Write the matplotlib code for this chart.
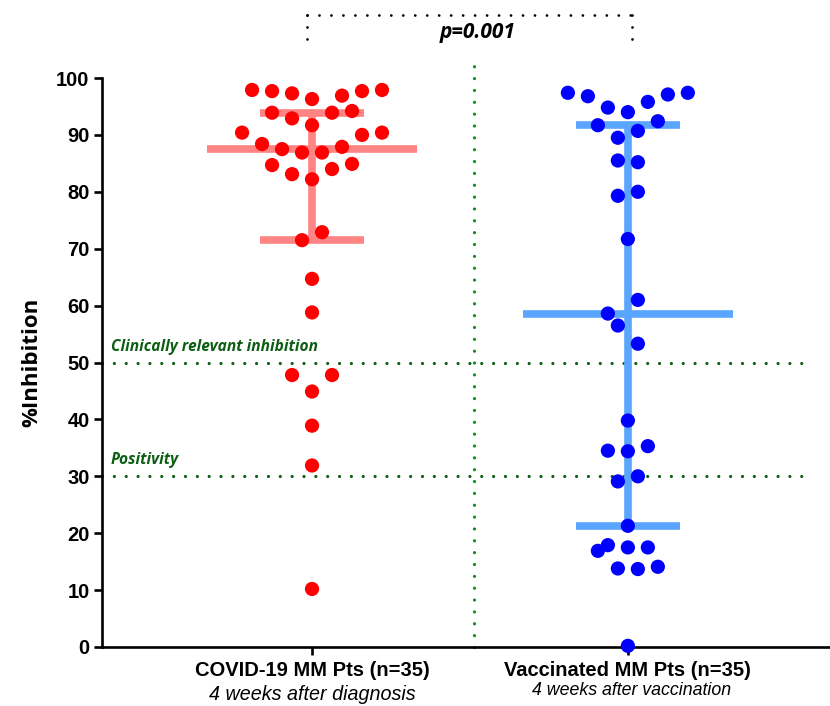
import matplotlib
matplotlib.use("Agg")
import matplotlib.pyplot as plt
import numpy as np

# ---------------- data ----------------
groups = ["COVID-19 MM Pts (n=35)", "Vaccinated MM Pts (n=35)"]
subtitles = ["4 weeks after diagnosis", "4 weeks after vaccination"]

covid_values = [97.9, 97.7, 97.3, 96.3, 96.9, 97.7, 97.9,
                93.9, 92.9, 91.7, 93.9, 94.2,
                90.4, 90.0, 90.4,
                88.4, 87.5, 86.9, 86.9, 87.9,
                84.7, 84.9, 83.1, 84.0, 82.2,
                72.9, 71.5,
                64.7, 58.8, 47.8, 47.8, 44.9, 38.9, 31.9, 10.2]
covid_jitter = [-6, -4, -2, 0, 3, 5, 7,
                -4, -2, 0, 2, 4,
                -7, 5, 7,
                -5, -3, -1, 1, 3,
                -4, 4, -2, 2, 0,
                1, -1,
                0, 0, -2, 2, 0, 0, 0, 0]

vacc_values = [97.4, 96.8, 94.8, 94.0, 95.8, 97.1, 97.4,
               91.7, 92.4, 89.5, 90.7, 85.5, 85.2, 79.3, 80.0, 71.7,
               61.0, 58.6, 56.5, 53.3,
               39.8, 34.5, 34.4, 35.3, 29.1, 30.0, 21.3,
               16.9, 17.9, 17.5, 17.5, 13.8, 13.7, 14.1, 0.2]
vacc_jitter = [-6, -4, -2, 0, 2, 4, 6,
               -3, 3, -1, 1, -1, 1, -1, 1, 0,
               1, -2, -1, 1,
               0, -2, 0, 2, -1, 1, 0,
               -3, -2, 0, 2, -1, 1, 3, 0]

# median and interquartile range shown as bars
covid_stats = {"median": 87.5, "q1": 71.5, "q3": 93.9}
vacc_stats = {"median": 58.6, "q1": 21.3, "q3": 91.7}

thresholds = [50, 30]
threshold_labels = ["Clinically relevant inhibition", "Positivity"]
p_text = "p=0.001"

# ---------------- styling ----------------
W, H = 830, 706
fig = plt.figure(figsize=(W / 100, H / 100), dpi=100)
ax = fig.add_axes([102 / W, (706 - 647) / H, 1 - 102 / W, (647 - 78) / H])
ax.set_xlim(-0.665, 1.64)
ax.set_ylim(0, 100)

jit_step = 10 / 316.0
dot_colors = ["#ff0000", "#0000ff"]
bar_colors = ["#ff8585", "#5aa5ff"]

green_dark = "#0b5e12"
green_mid = "#148a1c"
arial = ["Liberation Sans", "DejaVu Sans"]

# threshold lines
for t in thresholds:
    ax.plot([-0.665, 1.56], [t, t], color=green_dark, lw=2.3,
            linestyle=(0, (0.01, 3.7)), dash_capstyle="round", zorder=1,
            clip_on=False)
# vertical divider
ax.plot([0.513, 0.513], [0, 102.8], color=green_mid, lw=2.3,
        linestyle=(0, (0.01, 3.7)), dash_capstyle="round", zorder=1,
        clip_on=False)

# threshold labels
lab_font = dict(family=["Open Sans", "DejaVu Sans"], fontweight="bold",
                fontstyle="italic", fontsize=11.2, color=green_dark)
ax.text(-0.637, 51.4, threshold_labels[0], ha="left", va="bottom", **lab_font)
ax.text(-0.637, 31.4, threshold_labels[1], ha="left", va="bottom", **lab_font)

# median / IQR bars
for i, st in enumerate([covid_stats, vacc_stats]):
    c = bar_colors[i]
    ax.plot([i, i], [st["q1"], st["q3"]], color=c, lw=5.5, zorder=2,
            solid_capstyle="butt")
    ax.plot([i - 0.333, i + 0.333], [st["median"]] * 2, color=c, lw=5.5,
            zorder=2, solid_capstyle="butt")
    for q in (st["q1"], st["q3"]):
        ax.plot([i - 0.165, i + 0.165], [q, q], color=c, lw=5.5, zorder=2,
                solid_capstyle="butt")

# points
for i, (vals, jit) in enumerate([(covid_values, covid_jitter),
                                  (vacc_values, vacc_jitter)]):
    xs = i + np.array(jit) * jit_step
    ax.scatter(xs, vals, s=105, color=dot_colors[i], edgecolors="none",
               zorder=3, clip_on=False)

# top bracket
ax.plot([-0.016, 1.013], [111.1, 111.1], color="black", lw=2.0,
        linestyle=(0, (0.01, 4.3)), dash_capstyle="round", clip_on=False)
for xb in (-0.016, 1.013):
    ax.plot([xb, xb], [111.1, 106.6], color="black", lw=2.0,
            linestyle=(0, (0.01, 4.3)), dash_capstyle="round", clip_on=False)
ax.text(0.525, 108.0, p_text, ha="center", va="center", fontsize=15,
        fontweight="bold", fontstyle="italic",
        family=["Open Sans", "DejaVu Sans"], clip_on=False)

# axes styling
for s in ("top", "right"):
    ax.spines[s].set_visible(False)
for s in ("left", "bottom"):
    ax.spines[s].set_linewidth(1.9)
ax.set_yticks(np.arange(0, 101, 10))
ax.tick_params(axis="y", length=6, width=1.9, pad=3)
ax.tick_params(axis="x", length=6, width=1.9, pad=4)
for lab in ax.get_yticklabels():
    lab.set_fontfamily(arial)
    lab.set_fontweight("bold")
    lab.set_fontsize(14.5)

ax.set_xticks([0, 1])
ax.set_xticklabels(groups, fontsize=14.5, fontweight="bold", family=arial)
ax.text(0, -8.3, subtitles[0], ha="center", va="center", fontsize=14.2,
        fontstyle="italic", family=arial)
ax.text(1.013, -7.6, subtitles[1], ha="center", va="center", fontsize=12.8,
        fontstyle="italic", family=arial)

ax.set_ylabel("%Inhibition", fontsize=16, fontweight="bold",
              family=["Open Sans", "DejaVu Sans"], labelpad=10)

fig.savefig("out.png", dpi=100)
